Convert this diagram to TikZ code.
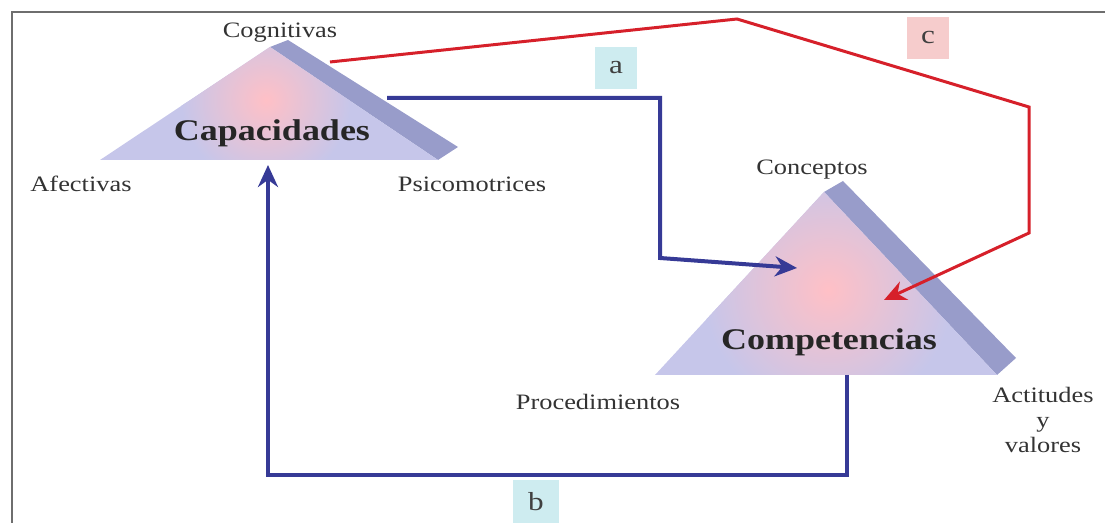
\documentclass[tikz,border=0pt]{standalone}
\usepackage{fontspec}
\setmainfont[FakeStretch=1.2]{Liberation Serif}
\usetikzlibrary{arrows.meta,positioning}
\definecolor{lavanda}{RGB}{198,198,234}
\definecolor{rosa}{RGB}{255,192,198}
\definecolor{franja}{RGB}{152,156,202}
\definecolor{azul}{RGB}{54,58,150}
\definecolor{rojo}{RGB}{214,32,42}
\definecolor{celeste}{RGB}{206,236,240}
\definecolor{rosado}{RGB}{246,204,204}
\definecolor{marco}{RGB}{110,110,110}

\begin{document}
\begin{tikzpicture}[x=0.5pt, y=-0.5pt, >={Stealth[length=11pt,width=10pt]},
    etiq/.style={font=\fontsize{11}{12.5}\selectfont, text=black!80},
    titulo/.style={font=\fontsize{15}{18}\selectfont\bfseries, text=black!85},
    letra/.style={font=\fontsize{13}{15}\selectfont, text=black!75, inner sep=0pt, minimum width=21pt, minimum height=21pt},
    flecha/.style={azul, line width=2pt, ->}]
    \useasboundingbox (0,0) rectangle (1105,523);
    \clip (0,0) rectangle (1105,523);
    \draw[marco, line width=0.8pt] (12,12) rectangle (1120,540);

    % triangulo de capacidades
    \coordinate (capA) at (270,47);
    \coordinate (capL) at (100,160);
    \coordinate (capR) at (438,160);
    \fill[franja] (capA) -- (288,40) -- (458,147) -- (capR) -- cycle;
    \fill[lavanda] (capA) -- (capL) -- (capR) -- cycle;
    \begin{scope}
      \clip (capA) -- (capL) -- (capR) -- cycle;
      \shade[inner color=rosa, outer color=lavanda] (266,100) circle (85);
    \end{scope}

    % triangulo de competencias
    \coordinate (comA) at (824,192);
    \coordinate (comL) at (655,375);
    \coordinate (comR) at (997,375);
    \fill[franja] (comA) -- (843,181) -- (1016,358) -- (comR) -- cycle;
    \fill[lavanda] (comA) -- (comL) -- (comR) -- cycle;
    \begin{scope}
      \clip (comA) -- (comL) -- (comR) -- cycle;
      \shade[inner color=rosa, outer color=lavanda] (828,290) circle (125);
    \end{scope}

    \node[titulo] (capacidades) at (272,133) {Capacidades};
    \node[etiq] (cognitivas) at (280,33) {Cognitivas};
    \node[etiq] (afectivas) at (81,184) {Afectivas};
    \node[etiq] (psicomotrices) at (472,184) {Psicomotrices};
    \node[titulo] (competencias) at (829,342) {Competencias};
    \node[etiq] (conceptos) at (812,170) {Conceptos};
    \node[etiq] (procedimientos) at (598,402) {Procedimientos};
    \node[etiq, align=center] (actitudes) at (1043,420) {Actitudes\\y\\valores};

    % conectores
    \coordinate (a1) at (387,98);
    \coordinate (a2) at (797,268);
    \coordinate (b1) at (847,375);
    \coordinate (b2) at (268,165);
    \coordinate (c1) at (330,62);
    \coordinate (c2) at (884,300);
    \draw[flecha] (a1) -- (660,98) -- (660,258) -- (a2);
    \draw[flecha] (b1) -- (847,475) -| (b2);
    \draw[rojo, line width=1.5pt, ->] (c1) -- (737,19) -- (1029,107) -- (1029,233) -- (c2);

    \node[letra, fill=celeste] (la) at (616,68) {a};
    \node[letra, fill=celeste, minimum width=23pt, minimum height=22pt] (lb) at (536,502) {b};
    \node[letra, fill=rosado] (lc) at (928,38) {c};
\end{tikzpicture}
\end{document}
